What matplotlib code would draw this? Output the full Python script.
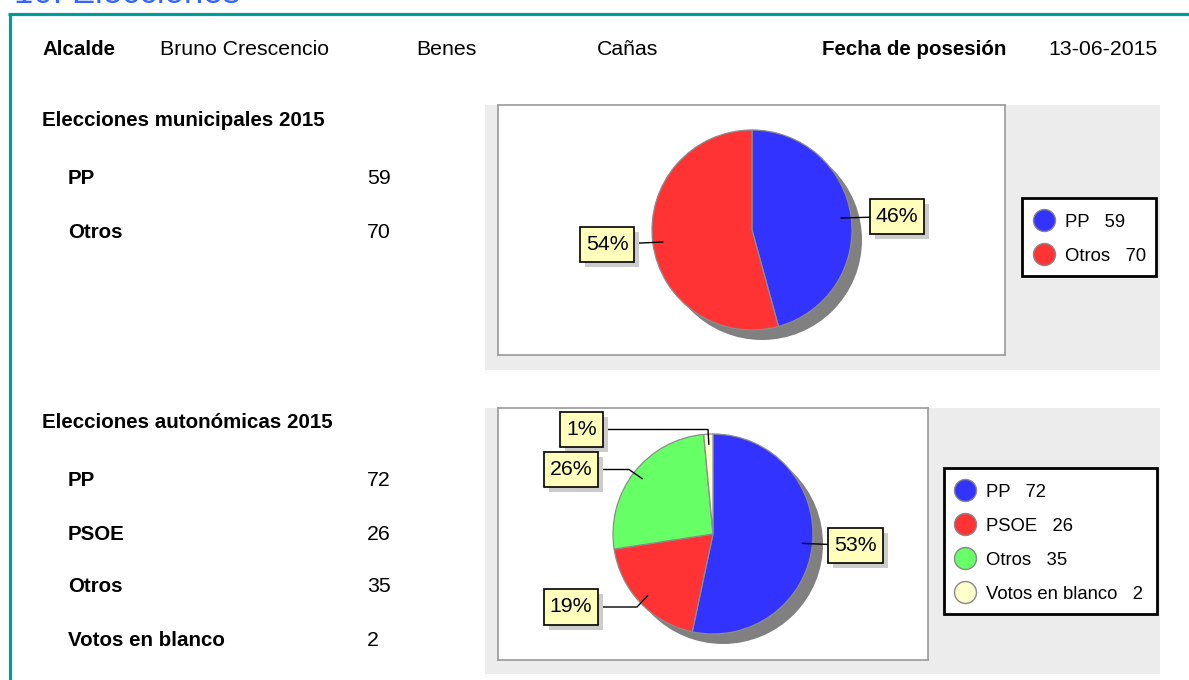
import numpy as np
import matplotlib
matplotlib.use("Agg")
import matplotlib.pyplot as plt
from matplotlib.patches import Rectangle, Circle
from matplotlib.path import Path
from matplotlib import transforms

plt.rcParams['font.family'] = ['Liberation Sans', 'DejaVu Sans']

# ---------------- data ----------------
section_title = "10. Elecciones"
header_labels = ["Alcalde", "Bruno Crescencio", "Benes", "Cañas", "Fecha de posesión", "13-06-2015"]
header_bold = [True, False, False, False, True, False]

muni_title = "Elecciones municipales 2015"
muni_parties = ["PP", "Otros"]
muni_votes = [59, 70]
muni_colors = ["#3333ff", "#ff3333"]

auto_title = "Elecciones autonómicas 2015"
auto_parties = ["PP", "PSOE", "Otros", "Votos en blanco"]
auto_votes = [72, 26, 35, 2]
auto_colors = ["#3333ff", "#ff3333", "#66ff66", "#ffffcc"]

# ---------------- layout (pixels) ----------------
W, H = 1189, 680
header_x = [42, 160, 416, 597, 822, 1048]
header_base = 55

chart1 = dict(title_base=126, row0=184.5, panel=(485, 105, 1160, 370), box=(498, 105, 1005, 355),
              center=(752, 230), legend=(1022, 198, 1156, 276), leg_x=1044, leg_y0=220, leg_step=34,
              lab_pos=[(897, 216.5), (607, 244.5)], elbows=[None, None])
chart2 = dict(title_base=428, row0=486.5, panel=(485, 408, 1160, 674), box=(498, 408, 928, 660),
              center=(713, 534), legend=(944, 468, 1157, 614), leg_x=965, leg_y0=490, leg_step=34,
              lab_pos=[(855.5, 545.5), (571, 607), (571, 469.5), (581.5, 429.5)],
              elbows=[None, (637, 607), (629, 469.5), (708, 429.5)])
R = 100
row_step = 53
name_x, value_x = 68, 367
FS = 15.3
FSB = 14.8


def label_box(x0, y0, width, height, mutation_size):
    padx = 0.28 * mutation_size
    pady = 0.38 * mutation_size
    xa, ya = x0 - padx, y0 - pady
    xb, yb = x0 + width + padx, y0 + height + pady
    return Path([(xa, ya), (xb, ya), (xb, yb), (xa, yb), (xa, ya)], closed=True)


fig = plt.figure(figsize=(W / 100, H / 100), dpi=100)
bg = fig.add_axes([0, 0, 1, 1])
bg.set_xlim(0, W)
bg.set_ylim(H, 0)
bg.axis("off")

# section title (cut at top) and teal frame
bg.text(14, 3.0, section_title, color="#3366ff", fontsize=25, va="baseline", ha="left")
bg.plot([8, W], [13.5, 13.5], color="#009b9b", lw=2.3, solid_capstyle="butt")
bg.plot([9.5, 9.5], [12.5, H], color="#009b9b", lw=2.3, solid_capstyle="butt")

for lab, x, b in zip(header_labels, header_x, header_bold):
    bg.text(x, header_base, lab, fontsize=FSB if b else FS, fontweight="bold" if b else "normal",
            va="baseline", ha="left", color="black")


def draw_chart(cfg, title, parties, votes, colors):
    # left list
    bg.text(42, cfg["title_base"], title, fontsize=FSB, fontweight="bold", va="baseline")
    for i, (p, v) in enumerate(zip(parties, votes)):
        y = cfg["row0"] + i * row_step
        bg.text(name_x, y, p, fontsize=FSB, fontweight="bold", va="baseline")
        bg.text(value_x, y, str(v), fontsize=FS, va="baseline")

    # grey panel
    x0, y0, x1, y1 = cfg["panel"]
    bg.add_patch(Rectangle((x0, y0), x1 - x0, y1 - y0, fc="#ececec", ec="none", zorder=0))

    # legend
    lx0, ly0, lx1, ly1 = cfg["legend"]
    bg.add_patch(Rectangle((lx0, ly0), lx1 - lx0, ly1 - ly0, fc="white", ec="black", lw=2, zorder=2))
    for i, (p, v, c) in enumerate(zip(parties, votes, colors)):
        y = cfg["leg_y0"] + i * cfg["leg_step"]
        bg.scatter([cfg["leg_x"]], [y], s=250, color=c, edgecolor="#888888", linewidth=1, zorder=3)
        bg.text(cfg["leg_x"] + 21, y + 6.8, f"{p}   {v}", fontsize=13.3, va="baseline", zorder=3)

    # pie axes
    bx0, by0, bx1, by1 = cfg["box"]
    cx, cy = cfg["center"]
    ax = fig.add_axes([bx0 / W, 1 - by1 / H, (bx1 - bx0) / W, (by1 - by0) / H])
    ax.pie(votes, colors=colors, startangle=90, counterclock=False, radius=1,
           wedgeprops=dict(edgecolor="#8c8c8c", linewidth=0.9))
    ax.add_patch(Circle((0.1, -0.1), 1.0, fc="#808080", ec="none", zorder=0.5))
    ax.set_aspect("auto")
    ax.set_xlim((bx0 - cx) / R, (bx1 - cx) / R)
    ax.set_ylim((cy - by1) / R, (cy - by0) / R)
    ax.set_frame_on(True)
    ax.set_facecolor("white")
    ax.set_xticks([])
    ax.set_yticks([])
    for s in ax.spines.values():
        s.set_color("#999999")
        s.set_linewidth(1.2)

    total = float(sum(votes))
    cum = 0.0
    shadow_tr = transforms.offset_copy(ax.transData, fig=fig, x=5, y=-5, units="dots")
    for i, v in enumerate(votes):
        mid = np.deg2rad(90 - 360 * (cum + v / 2) / total)
        cum += v
        ax_, ay_ = 0.9 * np.cos(mid), 0.9 * np.sin(mid)
        px, py = cfg["lab_pos"][i]
        tx, ty = (px - cx) / R, (cy - py) / R
        xs, ys = [ax_], [ay_]
        if cfg["elbows"][i] is not None:
            ex, ey = cfg["elbows"][i]
            xs.append((ex - cx) / R)
            ys.append((cy - ey) / R)
        xs.append(tx)
        ys.append(ty)
        ax.plot(xs, ys, color="black", lw=1, zorder=3)
        lab = f"{round(100 * v / total)}%"
        ax.text(tx, ty, lab, fontsize=FS, ha="center", va="center", color="none",
                transform=shadow_tr, zorder=4,
                bbox=dict(boxstyle=label_box, fc="#cccccc", ec="none"))
        ax.text(tx, ty, lab, fontsize=FS, ha="center", va="center", color="black", zorder=5,
                bbox=dict(boxstyle=label_box, fc="#ffffbb", ec="black", lw=1.2))


draw_chart(chart1, muni_title, muni_parties, muni_votes, muni_colors)
draw_chart(chart2, auto_title, auto_parties, auto_votes, auto_colors)

fig.savefig("out.png", dpi=100)
